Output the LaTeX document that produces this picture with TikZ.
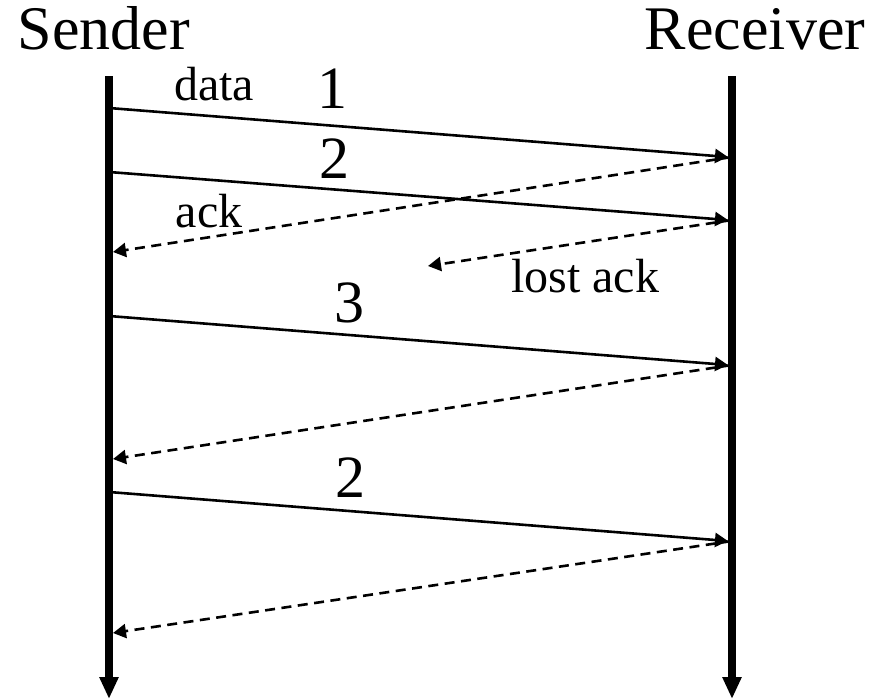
\documentclass[tikz,border=0pt]{standalone}
\usepackage{fontspec}
\setmainfont{Liberation Serif}
\usetikzlibrary{arrows.meta}

\tikzset{
  lifeline/.style={line width=8pt, -{Triangle[width=18pt,length=22pt]}},
  msg/.style={line width=2.6pt, -{Triangle[width=14pt,length=13pt]}},
  ackmsg/.style={msg, dash pattern=on 10pt off 6.5pt},
  head/.style={anchor=base, inner sep=0pt, font=\fontsize{62}{74}\selectfont},
  seqno/.style={anchor=base, inner sep=0pt, font=\fontsize{60}{72}\selectfont},
  note/.style={anchor=base, inner sep=0pt, font=\fontsize{48}{58}\selectfont},
}

\begin{document}
\begin{tikzpicture}[x=1pt, y=-1pt]
  \useasboundingbox (0,0) rectangle (873,699);

  % column headings
  \node[head] (sender) at (104,49) {Sender};
  \node[head] (receiver) at (755,49) {Receiver};

  % lifelines
  \coordinate (stop) at (109,76);
  \coordinate (send) at (109,699);
  \coordinate (rtop) at (732,76);
  \coordinate (rend) at (732,699);
  \draw[lifeline] (stop) -- (send);
  \draw[lifeline] (rtop) -- (rend);

  % points where messages leave and arrive
  \coordinate (s1) at (109,108);  \coordinate (r1) at (728,157);
  \coordinate (r1a) at (732,157); \coordinate (s1a) at (113,252);
  \coordinate (s2) at (109,172);  \coordinate (r2) at (728,220);
  \coordinate (r2a) at (732,220); \coordinate (lost) at (428,266);
  \coordinate (s3) at (109,316);  \coordinate (r3) at (728,365);
  \coordinate (r3a) at (732,365); \coordinate (s3a) at (113,459);
  \coordinate (s4) at (109,492);  \coordinate (r4) at (728,541);
  \coordinate (r4a) at (732,541); \coordinate (s4a) at (113,633);

  % data packets
  \draw[msg] (s1) -- (r1);
  \draw[msg] (s2) -- (r2);
  \draw[msg] (s3) -- (r3);
  \draw[msg] (s4) -- (r4);

  % acknowledgements
  \draw[ackmsg] (r1a) -- (s1a);
  \draw[ackmsg] (r2a) -- (lost);
  \draw[ackmsg] (r3a) -- (s3a);
  \draw[ackmsg] (r4a) -- (s4a);

  % labels
  \node[note] (ldata) at (214,100) {data};
  \node[seqno] (n1) at (332,108) {1};
  \node[seqno] (n2) at (334,178) {2};
  \node[note] (lack) at (209,227) {ack};
  \node[note] (llost) at (585,292) {lost ack};
  \node[seqno] (n3) at (349,322) {3};
  \node[seqno] (n2b) at (350,497) {2};
\end{tikzpicture}
\end{document}
